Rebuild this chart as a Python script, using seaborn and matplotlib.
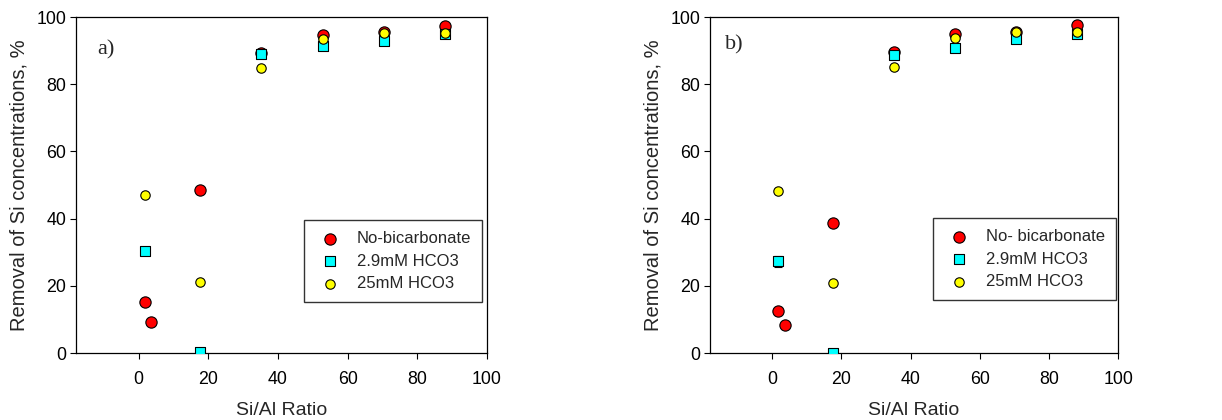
import numpy as np
import pandas as pd
import matplotlib
matplotlib.use("Agg")
import matplotlib.pyplot as plt
import seaborn as sns

# ---- data ----
x_no = [1.8, 3.6, 17.6, 35.2, 52.8, 70.4, 88.0]
x_hco = [1.8, 17.6, 35.2, 52.8, 70.4, 88.0]

y_no_a = [15.2, 9.1, 48.5, 89.2, 94.6, 95.4, 97.3]
y_29_a = [30.3, 0.3, 88.9, 91.5, 92.8, 95.0]
y_25_a = [47.1, 21.1, 84.9, 93.6, 95.3, 95.1]

y_no_b = [12.4, 8.4, 38.7, 89.7, 94.8, 95.5, 97.5]
y_29_b = [27.3, 0.0, 88.7, 90.9, 93.6, 94.8]
y_25_b = [48.1, 20.9, 85.1, 93.9, 95.6, 95.6]
err_29_b = [1.6, 0.0, 0.0, 0.0, 0.0, 0.0]

labels_a = ["No-bicarbonate", "2.9mM HCO3", "25mM HCO3"]
labels_b = ["No- bicarbonate", "2.9mM HCO3", "25mM HCO3"]
panel_tags = ["a)", "b)"]
x_ticks = [0, 20, 40, 60, 80, 100]
y_ticks = [0, 20, 40, 60, 80, 100]

sns.set_style("ticks")
plt.rcParams["font.family"] = ["Liberation Sans", "DejaVu Sans"]

fig = plt.figure(figsize=(12.22, 4.2), dpi=100)
ax_a = fig.add_axes([0.0622, 0.1595, 0.3363, 0.8])
ax_b = fig.add_axes([0.581, 0.1595, 0.334, 0.8])

styles = [("#ff0000", "o", 66), ("#00ffff", "s", 46), ("#ffff00", "o", 46)]

def draw(ax, ys, labels, tag, err, leg_anchor, tagpos):
    xs = [x_no, x_hco, x_hco]
    if err is not None:
        ax.errorbar(x_hco, ys[1], yerr=err, fmt="none", ecolor="black",
                    elinewidth=0.8, capsize=3, capthick=0.8, zorder=1)
    for i, (xv, yv, lab) in enumerate(zip(xs, ys, labels)):
        col, mk, s = styles[i]
        df = pd.DataFrame({"x": xv, "y": yv})
        sns.scatterplot(data=df, x="x", y="y", ax=ax, color=col, marker=mk,
                        s=s, edgecolor="black", linewidth=0.8, label=lab,
                        zorder=2 + i)
    ax.set_xlim(-18, 100)
    ax.set_ylim(0, 100)
    ax.set_xticks(x_ticks)
    ax.set_yticks(y_ticks)
    ax.tick_params(direction="out", length=4, width=0.8, labelsize=12.8,
                   colors="black", pad=3)
    ax.tick_params(axis="x", pad=9)
    for sp in ax.spines.values():
        sp.set_visible(True)
        sp.set_color("black")
        sp.set_linewidth(0.9)
    ax.set_xlabel("Si/Al Ratio", fontsize=14, labelpad=10)
    ax.set_ylabel("Removal of Si concentrations, %", fontsize=14.5, labelpad=6)
    ax.text(tagpos[0], tagpos[1], tag, fontsize=16, family="Liberation Serif",
            va="center", ha="left")
    leg = ax.legend(loc="lower right", bbox_to_anchor=leg_anchor, fontsize=12,
                    frameon=True, fancybox=False, edgecolor="black",
                    borderpad=0.65, labelspacing=0.45, handletextpad=0.73,
                    borderaxespad=0, handlelength=1.8)
    leg.get_frame().set_linewidth(1.0)

draw(ax_a, [y_no_a, y_29_a, y_25_a], labels_a, panel_tags[0], None,
     (0.988, 0.152), (-12.0, 90.2))
draw(ax_b, [y_no_b, y_29_b, y_25_b], labels_b, panel_tags[1], err_29_b,
     (0.995, 0.158), (-13.6, 91.6))

fig.savefig("out.png", dpi=100)
